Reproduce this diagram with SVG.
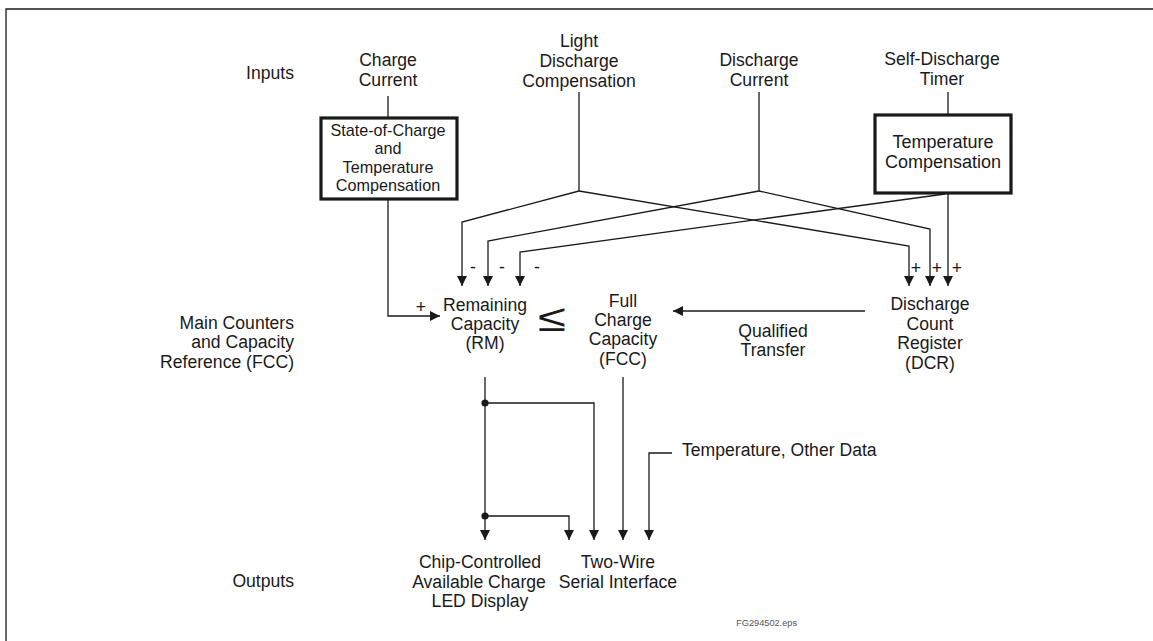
<svg xmlns="http://www.w3.org/2000/svg" width="1153" height="641" viewBox="0 0 1153 641">
<defs>
<style>
text{font-family:"Liberation Sans",Arial,sans-serif;font-size:17.6px;fill:#1a1a1a}
.m{text-anchor:middle}
.r{text-anchor:end}
.s{font-size:16.2px}
.b{font-size:18px}
.w{stroke:#1a1a1a;stroke-width:1.3;fill:none}
.a{marker-end:url(#arr)}
.box{fill:#fff;stroke:#1a1a1a;stroke-width:3.2}
</style>
<marker id="arr" viewBox="0 0 10 10" refX="10" refY="5" markerWidth="10" markerHeight="10" markerUnits="userSpaceOnUse" orient="auto">
<path d="M0,0 L10,5 L0,10 z" fill="#1a1a1a"/>
</marker>
</defs>
<rect width="1153" height="641" fill="#fff"/>
<g id="frame"><path class="w" d="M6,641 V9 H1153" stroke="#333"/></g>

<g id="connectors">
<path class="w" d="M388,96 V118"/>
<path class="w a" d="M388,199 V316 H440"/>
<path class="w" d="M579,92 V191"/>
<path class="w a" d="M579,191 L462,222 V286"/>
<path class="w a" d="M579,191 L909,246 V286"/>
<path class="w" d="M759,92 V191"/>
<path class="w a" d="M759,191 L488,241 V286"/>
<path class="w a" d="M759,191 L930,229 V286"/>
<path class="w" d="M948,92 V115"/>
<path class="w a" d="M948,193 V286"/>
<path class="w a" d="M945,194 L520,252 V286"/>
<path class="w a" d="M865,311 H673"/>
<path class="w a" d="M485,377 V540"/>
<path class="w a" d="M485,403 H594 V540"/>
<path class="w a" d="M485,516 H569 V540"/>
<path class="w a" d="M623,377 V540"/>
<path class="w a" d="M672,453 H649 V540"/>
<circle cx="485" cy="403" r="3.6" fill="#1a1a1a"/>
<circle cx="485" cy="516" r="3.6" fill="#1a1a1a"/>
<text x="473" y="273" class="m">-</text>
<text x="502" y="273" class="m">-</text>
<text x="537" y="273" class="m">-</text>
<text x="916" y="274" class="m">+</text>
<text x="937" y="274" class="m">+</text>
<text x="957" y="274" class="m">+</text>
<text x="421" y="313" class="m">+</text>
<text x="773" y="337" class="m">Qualified</text>
<text x="773" y="356" class="m">Transfer</text>
<text x="682" y="456">Temperature, Other Data</text>
</g>

<g id="section-labels">
<text x="294" y="79" class="r">Inputs</text>
<text x="294" y="329" class="r">Main Counters</text>
<text x="294" y="348" class="r">and Capacity</text>
<text x="294" y="368" class="r">Reference (FCC)</text>
<text x="294" y="587" class="r">Outputs</text>
</g>

<g id="charge-current"><text x="388" y="66" class="m">Charge</text><text x="388" y="86" class="m">Current</text></g>
<g id="light-discharge"><text x="579" y="47" class="m">Light</text><text x="579" y="67" class="m">Discharge</text><text x="579" y="87" class="m">Compensation</text></g>
<g id="discharge-current"><text x="759" y="66" class="m">Discharge</text><text x="759" y="86" class="m">Current</text></g>
<g id="self-discharge"><text x="942" y="65" class="m">Self-Discharge</text><text x="942" y="85" class="m">Timer</text></g>

<g id="soc-box">
<rect class="box" x="321" y="118" width="136" height="81"/>
<text x="388" y="136" class="m s">State-of-Charge</text>
<text x="388" y="154" class="m s">and</text>
<text x="388" y="173" class="m s">Temperature</text>
<text x="388" y="191" class="m s">Compensation</text>
</g>

<g id="temp-box">
<rect class="box" x="875" y="115" width="136" height="78"/>
<text x="943" y="148" class="m b">Temperature</text>
<text x="943" y="168" class="m b">Compensation</text>
</g>

<g id="rm">
<text x="485" y="311" class="m">Remaining</text>
<text x="485" y="330" class="m">Capacity</text>
<text x="485" y="349" class="m">(RM)</text>
</g>
<g id="leq"><text x="0" y="331" class="m" style="font-size:38px" transform="translate(552,0) scale(1.35,1)">≤</text></g>
<g id="fcc">
<text x="623" y="307" class="m">Full</text>
<text x="623" y="326" class="m">Charge</text>
<text x="623" y="345" class="m">Capacity</text>
<text x="623" y="365" class="m">(FCC)</text>
</g>
<g id="dcr">
<text x="930" y="310" class="m">Discharge</text>
<text x="930" y="330" class="m">Count</text>
<text x="930" y="349" class="m">Register</text>
<text x="930" y="369" class="m">(DCR)</text>
</g>

<g id="led-display">
<text x="480" y="568" class="m">Chip-Controlled</text>
<text x="479" y="588" class="m">Available Charge</text>
<text x="480" y="607" class="m">LED Display</text>
</g>
<g id="two-wire">
<text x="618" y="568" class="m">Two-Wire</text>
<text x="618" y="588" class="m">Serial Interface</text>
</g>
<g id="file-label"><text x="797" y="626" class="r" style="font-size:9.2px;fill:#555">FG294502.eps</text></g>
</svg>
